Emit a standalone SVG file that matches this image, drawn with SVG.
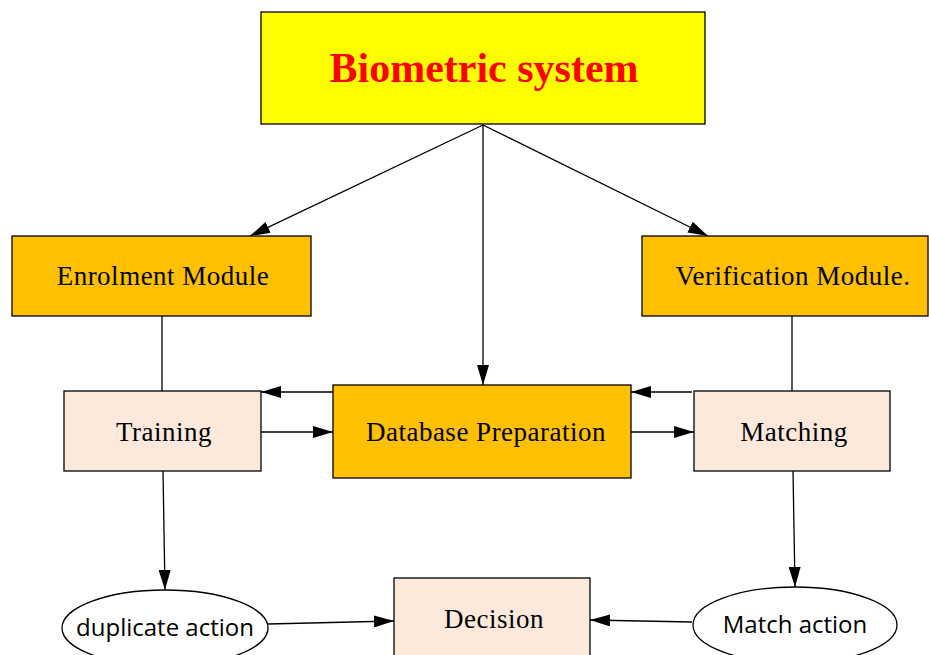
<svg xmlns="http://www.w3.org/2000/svg" width="929" height="655" viewBox="0 0 929 655">
  <style>
    .box { stroke: #000; stroke-width: 1.3; }
    .main { fill: #FFFF00; }
    .module { fill: #FFC000; }
    .step { fill: #FCE9DC; }
    .oval { fill: #fff; stroke: #000; stroke-width: 1.3; }
    .lbl { font-family: "Liberation Serif", "Times New Roman", serif; font-size: 27px; letter-spacing: 0.5px; fill: #000; text-anchor: middle; }
    .olbl { font-family: "Open Sans", "Liberation Sans", sans-serif; font-size: 24px; fill: #000; text-anchor: middle; }
    .title { font-family: "Liberation Serif", "Times New Roman", serif; font-size: 42px; font-weight: bold; fill: #FF0000; text-anchor: middle; }
    .edge { stroke: #000; stroke-width: 1.3; fill: none; }
    .arrow { marker-end: url(#head); }
  </style>
  <defs>
    <marker id="head" viewBox="0 0 20 12" refX="20" refY="6" markerWidth="20" markerHeight="12" markerUnits="userSpaceOnUse" orient="auto">
      <path d="M0,0 L20,6 L0,12 Z" fill="#000"/>
    </marker>
  </defs>
  <rect width="929" height="655" fill="#fff"/>

  <g id="connectors">
    <line class="edge arrow" x1="483" y1="125" x2="250" y2="236"/>
    <line class="edge arrow" x1="483" y1="125" x2="483" y2="385"/>
    <line class="edge arrow" x1="483" y1="125" x2="708" y2="236"/>
    <line class="edge" x1="162" y1="316" x2="162" y2="391"/>
    <line class="edge" x1="792" y1="316" x2="792" y2="391"/>
    <line class="edge arrow" x1="333" y1="392" x2="261" y2="392"/>
    <line class="edge arrow" x1="261" y1="432" x2="333" y2="432"/>
    <line class="edge arrow" x1="692" y1="392" x2="631" y2="392"/>
    <line class="edge arrow" x1="631" y1="432" x2="694" y2="432"/>
    <line class="edge arrow" x1="163" y1="471" x2="165" y2="590"/>
    <line class="edge arrow" x1="793" y1="471" x2="795" y2="587"/>
    <line class="edge arrow" x1="268" y1="624" x2="394" y2="621"/>
    <line class="edge arrow" x1="692" y1="622" x2="590" y2="620"/>
  </g>

  <g id="biometric-system">
    <rect class="box main" x="261" y="12" width="444" height="112"/>
    <text class="title" x="484" y="82">Biometric system</text>
  </g>
  <g id="enrolment-module">
    <rect class="box module" x="12" y="236" width="299" height="80"/>
    <text class="lbl" x="163" y="285">Enrolment Module</text>
  </g>
  <g id="verification-module">
    <rect class="box module" x="642" y="236" width="286" height="80"/>
    <text class="lbl" x="793" y="285">Verification Module.</text>
  </g>
  <g id="training">
    <rect class="box step" x="64" y="391" width="197" height="80"/>
    <text class="lbl" x="164" y="441">Training</text>
  </g>
  <g id="database-preparation">
    <rect class="box module" x="333" y="385" width="298" height="93"/>
    <text class="lbl" x="486" y="441">Database Preparation</text>
  </g>
  <g id="matching">
    <rect class="box step" x="694" y="391" width="196" height="80"/>
    <text class="lbl" x="794" y="441">Matching</text>
  </g>
  <g id="decision">
    <rect class="box step" x="394" y="578" width="196" height="90"/>
    <text class="lbl" x="494" y="628">Decision</text>
  </g>
  <g id="duplicate-action">
    <ellipse class="oval" cx="165" cy="628" rx="103" ry="38"/>
    <text class="olbl" x="165" y="636">duplicate action</text>
  </g>
  <g id="match-action">
    <ellipse class="oval" cx="795" cy="625" rx="102" ry="38"/>
    <text class="olbl" x="795" y="633">Match action</text>
  </g>
</svg>
